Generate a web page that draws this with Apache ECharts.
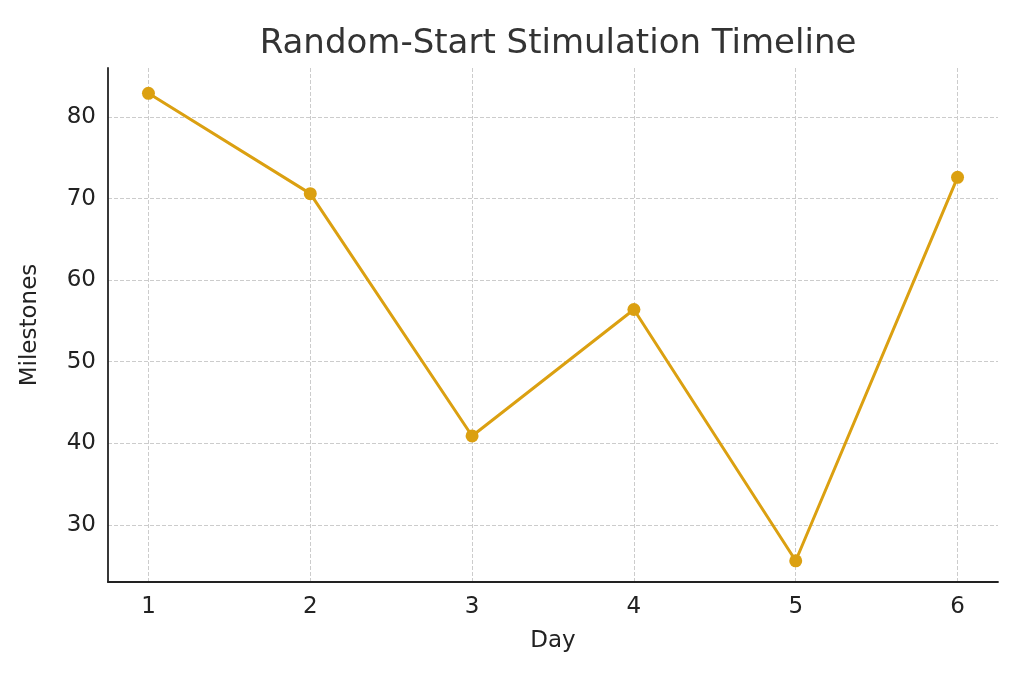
<!DOCTYPE html>
<html>
<head>
<meta charset="utf-8">
<script src="https://cdn.jsdelivr.net/npm/echarts@6/dist/echarts.min.js"></script>
<style>html,body{margin:0;padding:0;background:#fff}#chart{width:1024px;height:683px}</style>
</head>
<body>
<div id="chart"></div>
<script>
// 数据
var days = [1, 2, 3, 4, 5, 6];
var milestones = [82.9, 70.6, 40.9, 56.4, 25.6, 72.6];
var yTicks = [30, 40, 50, 60, 70, 80];

var chart = echarts.init(document.getElementById('chart'));
var points = [];
for (var i = 0; i < days.length; i++) {
	points.push([days[i], milestones[i]]);
}
var gridLines = [];
for (var i = 0; i < days.length; i++) {
	gridLines.push({ xAxis: days[i] });
}
for (var i = 0; i < yTicks.length; i++) {
	gridLines.push({ yAxis: yTicks[i] });
}
var font = 'DejaVu Sans';
var option = {
	title : {
		text : 'Random-Start Stimulation Timeline',
		left : 553, top : 22, textAlign : 'center',
		textStyle : { fontFamily : font, fontSize : 34, fontWeight : 'normal', color : '#333' }
	},
	grid : { left : 108, right : 26, top : 68, bottom : 101 },
	xAxis : {
		type : 'value', min : 0.75, max : 6.25, interval : 0.25,
		name : 'Day', nameLocation : 'middle', nameGap : 48,
		nameTextStyle : { fontFamily : font, fontSize : 23, color : '#222' },
		axisLine : { lineStyle : { color : '#222', width : 1.8 } },
		axisTick : { show : false },
		splitLine : { show : false },
		axisLabel : {
			fontFamily : font, fontSize : 23, color : '#222', margin : 14,
			formatter : function(v) { return Math.abs(v - Math.round(v)) < 1e-6 ? String(Math.round(v)) : ''; }
		}
	},
	yAxis : {
		type : 'value', min : 23, max : 86, interval : 1,
		name : 'Milestones', nameLocation : 'middle', nameGap : 66,
		nameTextStyle : { fontFamily : font, fontSize : 23, color : '#222' },
		axisLine : { show : true, lineStyle : { color : '#222', width : 1.8 } },
		axisTick : { show : false },
		splitLine : { show : false },
		axisLabel : {
			fontFamily : font, fontSize : 23, color : '#222', margin : 12,
			formatter : function(v) { return v % 10 === 0 ? String(v) : ''; }
		}
	},
	series : [ {
		type : 'line',
		data : points,
		symbol : 'circle', symbolSize : 13,
		lineStyle : { color : '#DBA011', width : 3 },
		itemStyle : { color : '#DBA011' },
		markLine : {
			silent : true, symbol : 'none', label : { show : false },
			lineStyle : { color : '#cccccc', type : 'dashed', width : 1 },
			data : gridLines, z : 0
		}
	} ]
};
chart.setOption(option);
</script>
</body>
</html>
